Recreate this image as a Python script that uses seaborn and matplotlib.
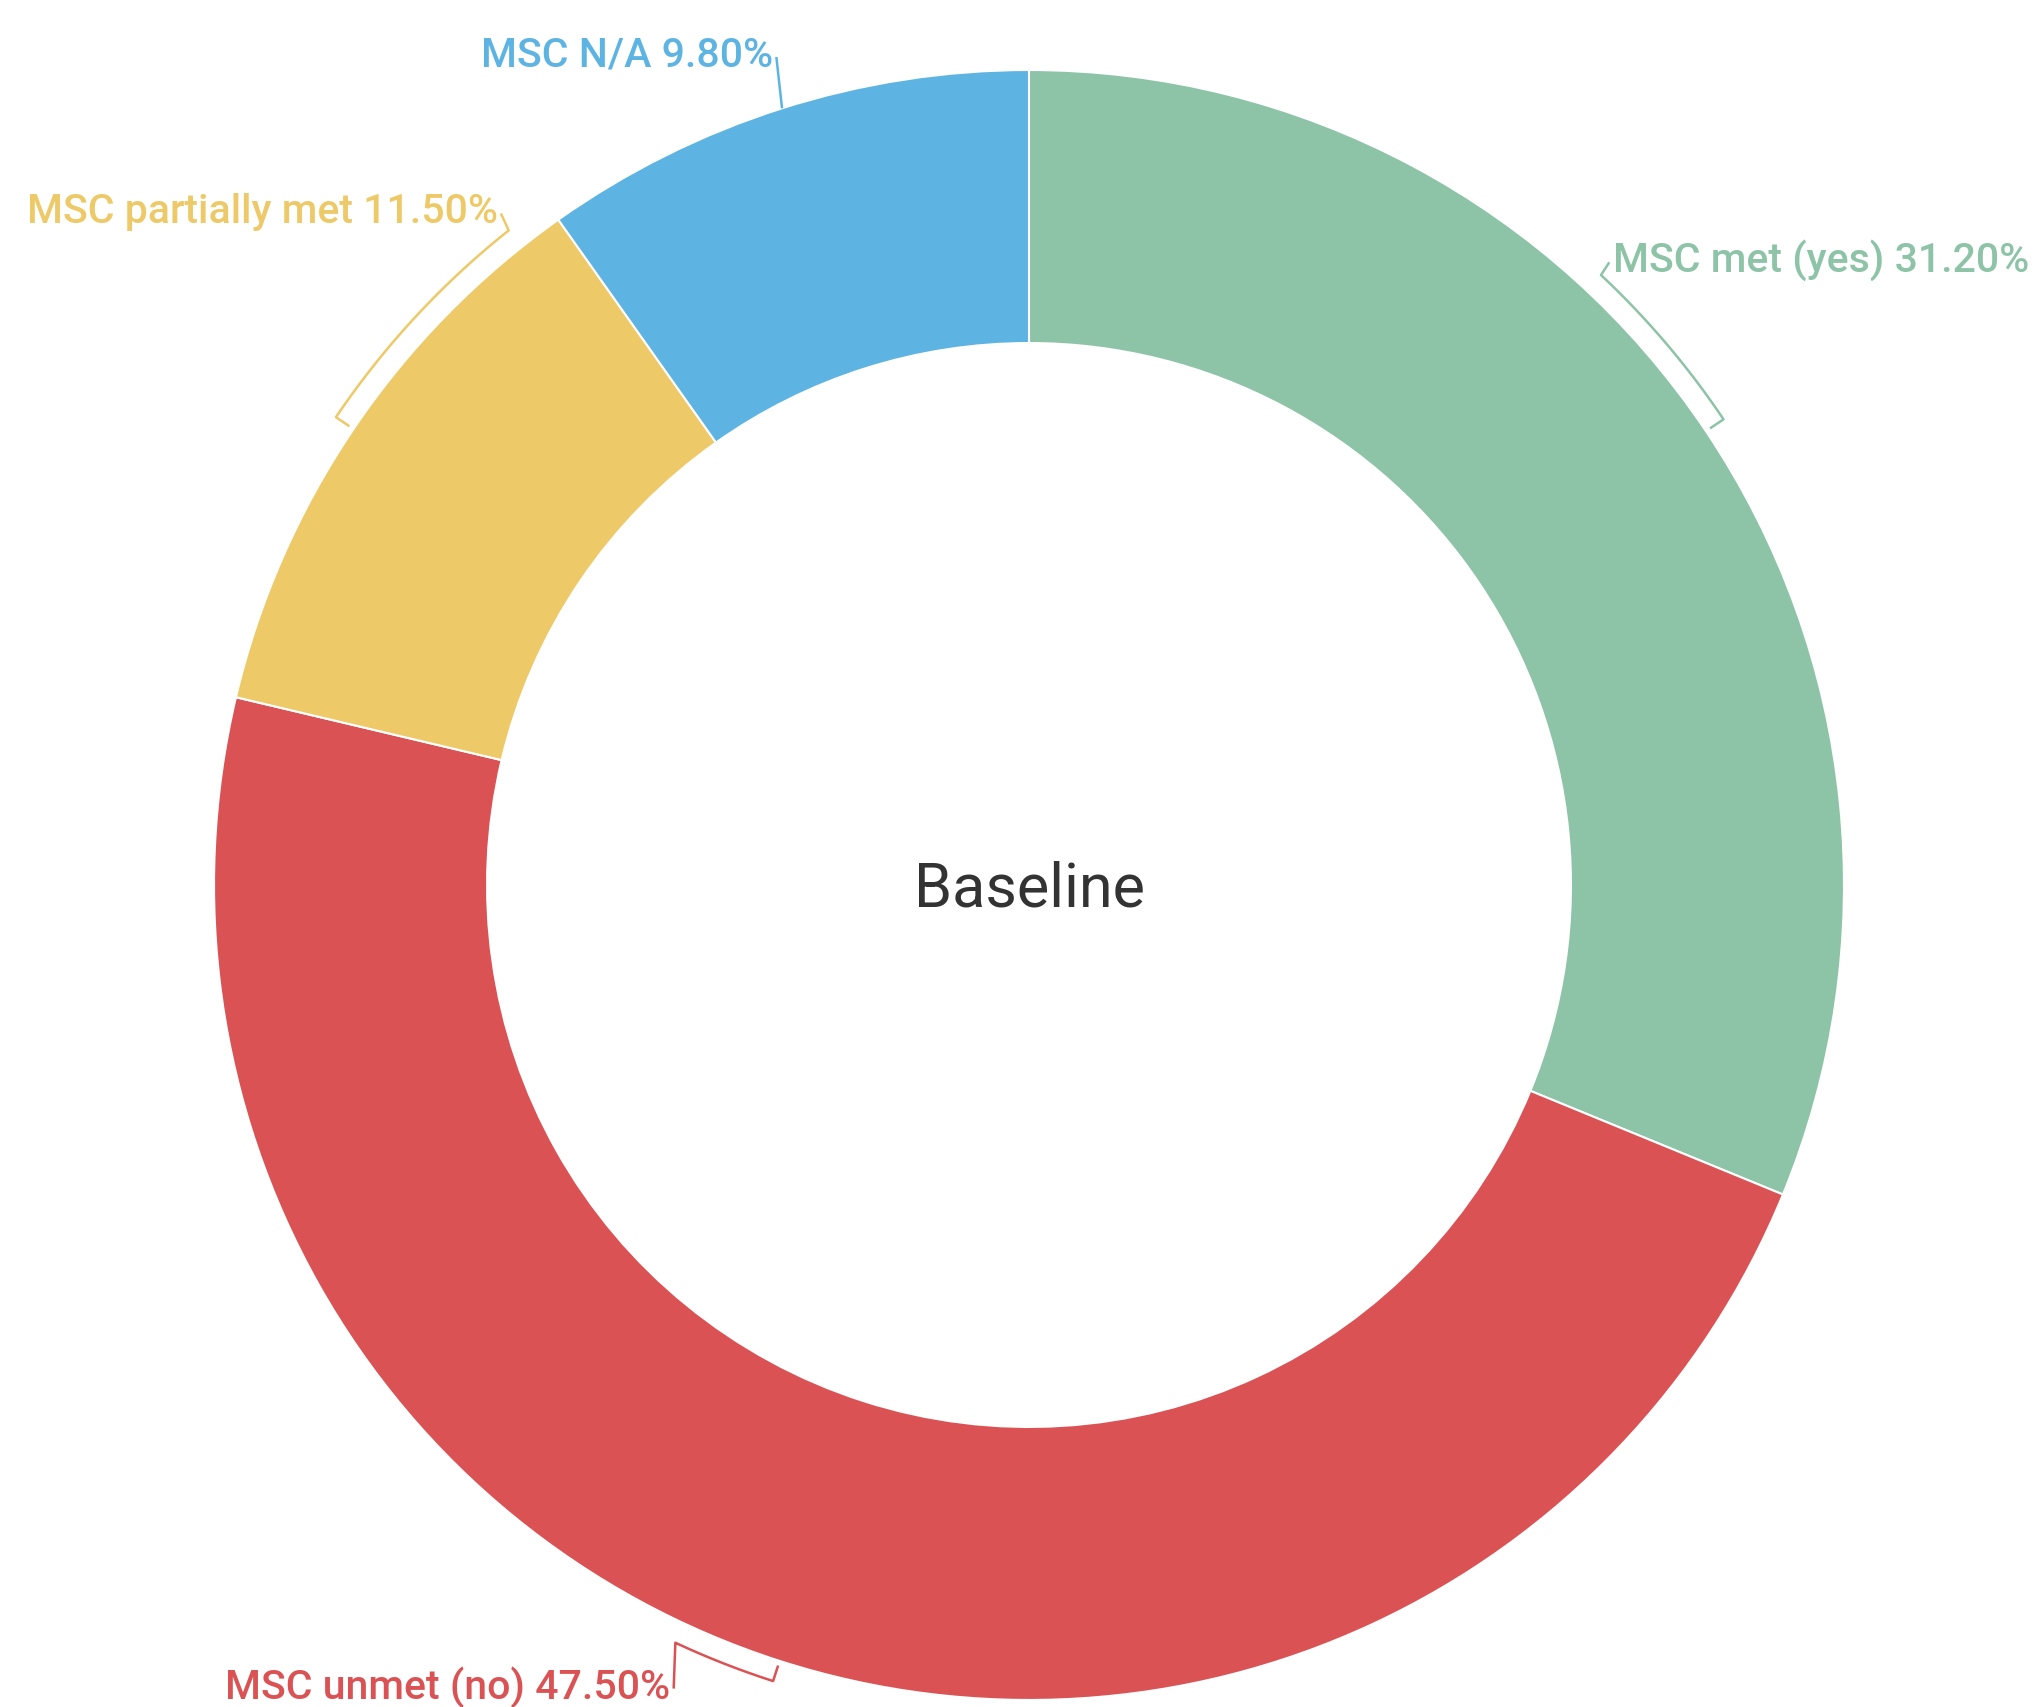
import numpy as np
import seaborn as sns
import matplotlib.pyplot as plt

# ============================================================
# Data (share of patients by MSC status at baseline)
# ============================================================

categories = ["MSC met (yes)", "MSC unmet (no)", "MSC partially met", "MSC N/A"]
values = [31.2, 47.5, 11.5, 9.8]
slice_colors = ["#8DC3A7", "#DB5254", "#EDC967", "#5DB4E2"]
center_label = "Baseline"

# label styling: bracket sweep (deg) from slice middle, text anchor, alignment
bracket_sweep = [13.0, -7.2, -17.5, 0.0]
label_pos = [(0.716, 0.752), (-0.440, -0.998), (-0.652, 0.812), (-0.314, 1.004)]
label_ha = ["left", "right", "right", "right"]

# ============================================================
# Plot
# ============================================================

sns.set_theme(style="white")
plt.rcParams["font.family"] = ["Roboto", "DejaVu Sans"]

fig = plt.figure(figsize=(20.4, 17.07), dpi=100)
ax = fig.add_axes([0, 0, 1, 1])

wedges, _ = ax.pie(
    values,
    colors=slice_colors,
    startangle=90,
    counterclock=False,
    radius=1.0,
    wedgeprops=dict(width=0.335, edgecolor="white", linewidth=1.5),
)

ax.text(0, -0.005, center_label, ha="center", va="center",
        fontsize=44, color="#333333")

# brackets + leader lines
r_in, r_out = 1.006, 1.026
for w, cat, val, col, sweep, pos, ha in zip(wedges, categories, values,
                                             slice_colors, bracket_sweep,
                                             label_pos, label_ha):
    mid = (w.theta1 + w.theta2) / 2
    if sweep != 0:
        ang = np.radians(np.linspace(mid, mid + sweep, 60))
        xs = r_out * np.cos(ang)
        ys = r_out * np.sin(ang)
        # tick at slice middle, then arc
        xs = np.concatenate([[r_in * np.cos(ang[0])], xs])
        ys = np.concatenate([[r_in * np.sin(ang[0])], ys])
    else:
        a = np.radians(mid)
        xs = np.array([np.cos(a)])
        ys = np.array([np.sin(a)])
    xs = np.append(xs, pos[0] + (0.004 if ha == "right" else -0.004))
    ys = np.append(ys, pos[1] + 0.012)
    ax.plot(xs, ys, color=col, lw=1.8, solid_capstyle="butt")
    ax.text(pos[0], pos[1], f"{cat} {val:.2f}%", ha=ha, va="baseline",
            fontsize=29.5, fontweight="medium", color=col)

ax.set_xlim(-1.2626, 1.2405)
ax.set_ylim(-1.0086, 1.0859)
ax.set_aspect("auto")
ax.axis("off")

fig.savefig("out.png", dpi=100, facecolor="white")
